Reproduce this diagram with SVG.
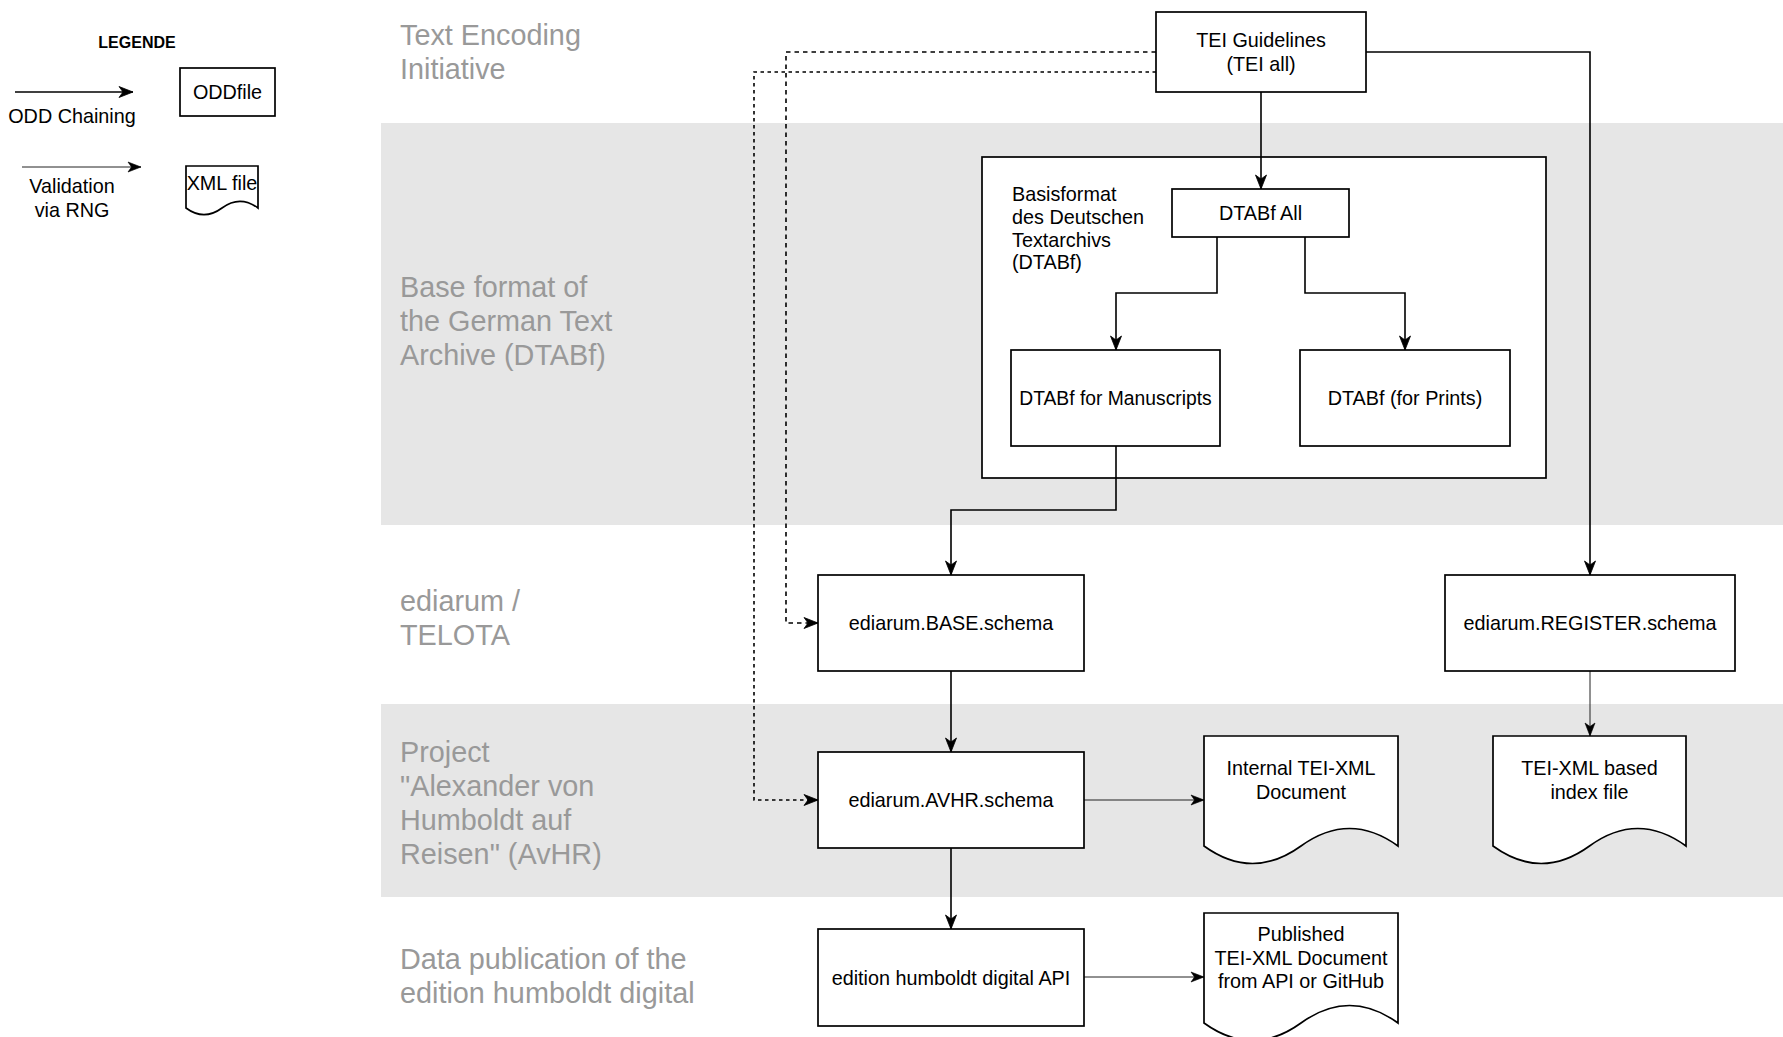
<svg xmlns="http://www.w3.org/2000/svg" width="1783" height="1037" viewBox="0 0 1783 1037">
<style>
.band{fill:#e6e6e6}
.lbl{font-family:"Liberation Sans",Arial,Helvetica,sans-serif;font-size:28.8px;fill:#999999}
.t{font-family:"Liberation Sans",Arial,Helvetica,sans-serif;font-size:19.8px;fill:#000}
.c{text-anchor:middle}
.box{fill:#fff;stroke:#000;stroke-width:1.7}
.odd{fill:none;stroke:#000;stroke-width:1.6}
.val{fill:none;stroke:#222;stroke-width:1}
.dash{stroke-dasharray:4.5 4}
.dot{stroke-dasharray:3.5 3.5}
</style>
<defs>
<marker id="arr" markerUnits="userSpaceOnUse" markerWidth="14" markerHeight="12" refX="14" refY="6" orient="auto" overflow="visible">
<path d="M0,0.5 L14,6 L0,11.5 L4,6 Z" fill="#000" stroke="#000" stroke-width="0.8"/>
</marker>
<marker id="arrs" markerUnits="userSpaceOnUse" markerWidth="13" markerHeight="11" refX="13" refY="5.5" orient="auto" overflow="visible">
<path d="M0,0.5 L13,5.5 L0,10.5 L3.5,5.5 Z" fill="#000" stroke="#000" stroke-width="0.6"/>
</marker>
</defs>
<rect width="1783" height="1037" fill="#fff"/>

<g id="bands">
<rect class="band" x="381" y="123" width="1402" height="402"/>
<rect class="band" x="381" y="704" width="1402" height="193"/>
</g>

<g id="lane-labels">
<text class="lbl"><tspan x="400" y="45">Text Encoding</tspan><tspan x="400" y="78.6">Initiative</tspan></text>
<text class="lbl"><tspan x="400" y="297">Base format of</tspan><tspan x="400" y="331">the German Text</tspan><tspan x="400" y="365">Archive (DTABf)</tspan></text>
<text class="lbl"><tspan x="400" y="611">ediarum /</tspan><tspan x="400" y="645">TELOTA</tspan></text>
<text class="lbl"><tspan x="400" y="762">Project</tspan><tspan x="400" y="796">"Alexander von</tspan><tspan x="400" y="830">Humboldt auf</tspan><tspan x="400" y="864">Reisen" (AvHR)</tspan></text>
<text class="lbl"><tspan x="400" y="969">Data publication of the</tspan><tspan x="400" y="1003">edition humboldt digital</tspan></text>
</g>

<g id="legend">
<text class="t c" x="137" y="48" style="font-weight:bold;font-size:16px">LEGENDE</text>
<line class="odd" x1="15" y1="92" x2="133" y2="92" marker-end="url(#arr)"/>
<text class="t c" x="72" y="123">ODD Chaining</text>
<rect class="box" x="180" y="68" width="95" height="48"/>
<text class="t c" x="227.5" y="99">ODDfile</text>
<line class="val" x1="22" y1="167" x2="141" y2="167" marker-end="url(#arrs)"/>
<text class="t c"><tspan x="72" y="193">Validation</tspan><tspan x="72" y="217">via RNG</tspan></text>
<path class="box" d="M186,166 L258,166 L258,208 Q240,194.7 222,208 Q204,221.3 186,208 Z"/>
<text class="t c" x="222" y="190">XML file</text>
</g>

<g id="dtabf-container">
<rect class="box" x="982" y="157" width="564" height="321"/>
<text class="t"><tspan x="1012" y="201">Basisformat</tspan><tspan x="1012" y="224">des Deutschen</tspan><tspan x="1012" y="247">Textarchivs</tspan><tspan x="1012" y="269">(DTABf)</tspan></text>
</g>

<g id="connectors">
<path class="odd dash" d="M1156,52 L786,52 L786,623 L818,623" marker-end="url(#arr)"/>
<path class="odd dot" d="M1156,72 L754,72 L754,800 L818,800" marker-end="url(#arr)"/>
<path class="odd" d="M1261,92 L1261,189" marker-end="url(#arr)"/>
<path class="odd" d="M1366,52 L1590,52 L1590,575" marker-end="url(#arr)"/>
<path class="odd" d="M1217,237 L1217,293 L1116,293 L1116,350" marker-end="url(#arr)"/>
<path class="odd" d="M1305,237 L1305,293 L1405,293 L1405,350" marker-end="url(#arr)"/>
<path class="odd" d="M1116,446 L1116,510 L951,510 L951,575" marker-end="url(#arr)"/>
<path class="odd" d="M951,671 L951,752" marker-end="url(#arr)"/>
<path class="odd" d="M951,848 L951,929" marker-end="url(#arr)"/>
<path class="val" d="M1084,800 L1204,800" marker-end="url(#arrs)"/>
<path class="val" d="M1590,671 L1590,736" marker-end="url(#arrs)"/>
<path class="val" d="M1084,977 L1204,977" marker-end="url(#arrs)"/>
</g>

<g id="tei">
<rect class="box" x="1156" y="12" width="210" height="80"/>
<text class="t c"><tspan x="1261" y="47">TEI Guidelines</tspan><tspan x="1261" y="70.5">(TEI all)</tspan></text>
</g>
<g id="dtabf-all">
<rect class="box" x="1172" y="189" width="177" height="48"/>
<text class="t c" x="1260.5" y="220">DTABf All</text>
</g>
<g id="dtabf-manuscripts">
<rect class="box" x="1011" y="350" width="209" height="96"/>
<text class="t c" x="1115.5" y="405" style="font-size:19.3px">DTABf for Manuscripts</text>
</g>
<g id="dtabf-prints">
<rect class="box" x="1300" y="350" width="210" height="96"/>
<text class="t c" x="1405" y="405">DTABf (for Prints)</text>
</g>
<g id="ediarum-base">
<rect class="box" x="818" y="575" width="266" height="96"/>
<text class="t c" x="951" y="630">ediarum.BASE.schema</text>
</g>
<g id="ediarum-register">
<rect class="box" x="1445" y="575" width="290" height="96"/>
<text class="t c" x="1590" y="630">ediarum.REGISTER.schema</text>
</g>
<g id="ediarum-avhr">
<rect class="box" x="818" y="752" width="266" height="96"/>
<text class="t c" x="951" y="807">ediarum.AVHR.schema</text>
</g>
<g id="ehd-api">
<rect class="box" x="818" y="929" width="266" height="97"/>
<text class="t c" x="951" y="984.5">edition humboldt digital API</text>
</g>
<g id="internal-doc">
<path class="box" d="M1204,736 L1398,736 L1398,846 Q1349.5,811 1301,846 Q1252.5,881 1204,846 Z"/>
<text class="t c"><tspan x="1301" y="775">Internal TEI-XML</tspan><tspan x="1301" y="799">Document</tspan></text>
</g>
<g id="index-doc">
<path class="box" d="M1493,736 L1686,736 L1686,846 Q1637.75,811 1589.5,846 Q1541.25,881 1493,846 Z"/>
<text class="t c"><tspan x="1589.5" y="775">TEI-XML based</tspan><tspan x="1589.5" y="799">index file</tspan></text>
</g>
<g id="published-doc">
<path class="box" d="M1204,913 L1398,913 L1398,1023 Q1349.5,988 1301,1023 Q1252.5,1058 1204,1023 Z"/>
<text class="t c"><tspan x="1301" y="941">Published</tspan><tspan x="1301" y="965">TEI-XML Document</tspan><tspan x="1301" y="988">from API or GitHub</tspan></text>
</g>
</svg>
